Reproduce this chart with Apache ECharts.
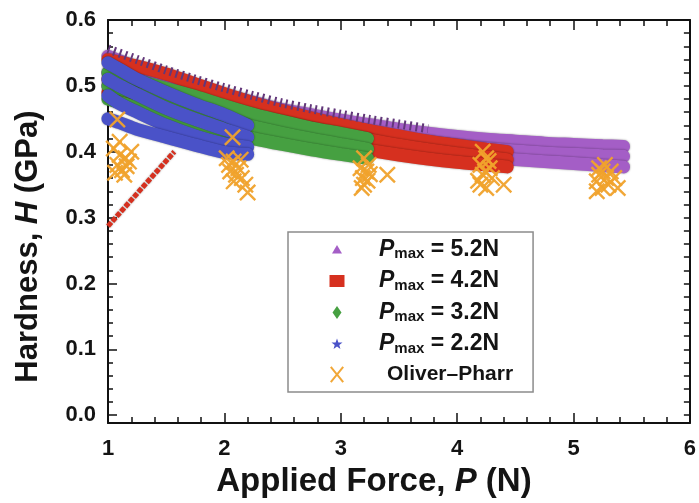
<!DOCTYPE html>
<html><head><meta charset="utf-8">
<script src="https://cdn.jsdelivr.net/npm/echarts@6/dist/echarts.min.js"></script>
<style>html,body{margin:0;padding:0;background:#fff}#c{width:699px;height:503px}</style>
</head><body><div id="c"></div>
<script>
// ---------------- DATA ----------------
const xTickLabels = [1, 2, 3, 4, 5, 6];
const yTickLabels = [0, 0.1, 0.2, 0.3, 0.4, 0.5, 0.6];
const yMinorTicks = [0,0.02,0.04,0.06,0.08,0.1,0.12,0.14,0.16,0.18,0.2,0.22,0.24,0.26,0.28,0.3,0.32,0.34,0.36,0.38,0.4,0.42,0.44,0.46,0.48,0.5,0.52,0.54,0.56,0.58,0.6];

const seriesNames = ['Pmax = 5.2N', 'Pmax = 4.2N', 'Pmax = 3.2N', 'Pmax = 2.2N', 'Oliver\u2013Pharr'];

// Pmax = 5.2 N (three test runs forming the purple band)
const p52X    = [1.0, 1.25, 1.5, 1.75, 2.0, 2.25, 2.5, 2.75, 3.0, 3.25, 3.5, 3.75, 4.0, 4.25, 4.5, 4.75, 5.0, 5.25, 5.43];
const p52RunA = [0.545, 0.528, 0.512, 0.498, 0.486, 0.475, 0.464, 0.456, 0.448, 0.441, 0.434, 0.428, 0.423, 0.419, 0.416, 0.413, 0.411, 0.409, 0.408];
const p52RunB = [0.520, 0.505, 0.490, 0.477, 0.466, 0.456, 0.447, 0.439, 0.432, 0.426, 0.420, 0.414, 0.409, 0.405, 0.401, 0.398, 0.396, 0.394, 0.393];
const p52RunC = [0.500, 0.485, 0.470, 0.458, 0.447, 0.437, 0.428, 0.421, 0.415, 0.409, 0.404, 0.399, 0.395, 0.391, 0.388, 0.385, 0.382, 0.379, 0.377];
// upper edge of the purple band (hatched marker outlines)
const p52EdgeX = [1.0, 1.25, 1.5, 1.75, 2.0, 2.25, 2.5, 2.75, 3.0, 3.25, 3.5, 3.75];
const p52EdgeY = [0.556, 0.540, 0.524, 0.510, 0.497, 0.485, 0.474, 0.465, 0.457, 0.449, 0.442, 0.435];

// Pmax = 4.2 N
const p42X    = [1.0, 1.25, 1.5, 1.75, 2.0, 2.25, 2.5, 2.75, 3.0, 3.25, 3.5, 3.75, 4.0, 4.25, 4.43];
const p42RunA = [0.540, 0.530, 0.518, 0.503, 0.488, 0.474, 0.462, 0.451, 0.441, 0.432, 0.424, 0.416, 0.410, 0.404, 0.400];
const p42RunB = [0.510, 0.500, 0.490, 0.478, 0.466, 0.455, 0.445, 0.435, 0.426, 0.418, 0.410, 0.403, 0.397, 0.392, 0.388];
const p42RunC = [0.490, 0.480, 0.470, 0.458, 0.447, 0.437, 0.427, 0.418, 0.410, 0.402, 0.395, 0.389, 0.384, 0.380, 0.377];
// initial loading ramp of the 4.2 N test
const p42RampX = [1.0, 1.57];
const p42RampY = [0.287, 0.400];

// Pmax = 3.2 N
const p32X    = [1.0, 1.25, 1.5, 1.75, 2.0, 2.25, 2.5, 2.75, 3.0, 3.23];
const p32RunA = [0.520, 0.508, 0.496, 0.484, 0.470, 0.457, 0.446, 0.436, 0.428, 0.420];
const p32RunB = [0.500, 0.488, 0.476, 0.463, 0.450, 0.438, 0.428, 0.419, 0.411, 0.404];
const p32RunC = [0.480, 0.467, 0.455, 0.443, 0.431, 0.420, 0.411, 0.403, 0.396, 0.390];

// Pmax = 2.2 N
const p22X    = [1.0, 1.1, 1.25, 1.5, 1.75, 2.0, 2.2];
const p22RunA = [0.535, 0.525, 0.510, 0.490, 0.472, 0.456, 0.440];
const p22RunB = [0.510, 0.500, 0.487, 0.466, 0.449, 0.434, 0.422];
const p22RunC = [0.485, 0.473, 0.460, 0.440, 0.424, 0.412, 0.407];
const p22RunD = [0.450, 0.444, 0.434, 0.422, 0.410, 0.399, 0.396];

// Oliver–Pharr estimates
const opX = [1.08, 1.05, 1.10, 1.15, 1.08, 1.12, 1.18, 1.06, 1.14, 1.20, 1.10, 1.16,
             2.07, 2.02, 2.08, 2.12, 2.05, 2.10, 2.15, 2.08, 2.18, 2.20, 2.04, 2.14,
             3.20, 3.17, 3.22, 3.19, 3.24, 3.20, 3.23, 3.40, 3.18, 3.25,
             4.22, 4.25, 4.20, 4.28, 4.22, 4.30, 4.20, 4.25, 4.40, 4.18, 4.27, 4.24,
             5.22, 5.25, 5.28, 5.20, 5.30, 5.25, 5.38, 5.22, 5.32, 5.27, 5.35, 5.20];
const opY = [0.449, 0.405, 0.395, 0.390, 0.380, 0.372, 0.385, 0.368, 0.365, 0.400, 0.415, 0.378,
             0.422, 0.390, 0.385, 0.375, 0.370, 0.365, 0.360, 0.355, 0.350, 0.338, 0.380, 0.388,
             0.390, 0.375, 0.370, 0.360, 0.380, 0.350, 0.356, 0.365, 0.345, 0.366,
             0.400, 0.390, 0.380, 0.375, 0.365, 0.360, 0.350, 0.345, 0.350, 0.356, 0.386, 0.370,
             0.375, 0.370, 0.360, 0.355, 0.350, 0.345, 0.345, 0.365, 0.370, 0.380, 0.360, 0.340];

// ---------------- CHART ----------------
const pairs = (xs, ys) => xs.map((x, i) => [x, ys[i]]);
const FONT = '"Liberation Sans", Arial, Helvetica, sans-serif';
const C = { p52: '#a45ec6', p42: '#d6301f', p32: '#46a041', p22: '#4a52c8', op: '#f0a22c' };

function band(name, color, xs, ys, width) {
  return {
    type: 'line', name, data: pairs(xs, ys), showSymbol: false, symbol: 'none',
    smooth: 0.3, color, itemStyle: { color },
    lineStyle: { color, width: width || 13, cap: 'round', shadowColor: 'rgba(0,0,0,0.45)', shadowBlur: 2 },
    emphasis: { disabled: true }, animation: false, z: 2
  };
}

const series = [
  band(seriesNames[0], C.p52, p52X, p52RunA),
  band(seriesNames[0], C.p52, p52X, p52RunB),
  band(seriesNames[0], C.p52, p52X, p52RunC),
  {
    type: 'line', name: seriesNames[0], data: pairs(p52EdgeX, p52EdgeY), showSymbol: false, symbol: 'none',
    smooth: 0.3, color: '#5a3270',
    lineStyle: { color: '#62377a', width: 9, type: [2, 4] }, emphasis: { disabled: true }, animation: false
  },
  band(seriesNames[1], C.p42, p42X, p42RunA),
  band(seriesNames[1], C.p42, p42X, p42RunB),
  band(seriesNames[1], C.p42, p42X, p42RunC),
  band(seriesNames[2], C.p32, p32X, p32RunA),
  band(seriesNames[2], C.p32, p32X, p32RunB),
  band(seriesNames[2], C.p32, p32X, p32RunC),
  band(seriesNames[3], C.p22, p22X, p22RunA),
  band(seriesNames[3], C.p22, p22X, p22RunB),
  band(seriesNames[3], C.p22, p22X, p22RunC),
  band(seriesNames[3], C.p22, p22X, p22RunD),
  {
    type: 'line', name: seriesNames[1], data: pairs(p42RampX, p42RampY), showSymbol: false, symbol: 'none',
    color: C.p42, lineStyle: { color: C.p42, width: 5, type: [5, 1.5], shadowColor: 'rgba(0,0,0,0.4)', shadowBlur: 2 },
    emphasis: { disabled: true }, animation: false
  },
  {
    type: 'scatter', name: seriesNames[4], data: pairs(opX, opY),
    symbol: 'path://M0,2L2,0L10,8L18,0L20,2L12,10L20,18L18,20L10,12L2,20L0,18L8,10Z',
    symbolSize: 17, itemStyle: { color: C.op, opacity: 0.95 }, color: C.op,
    emphasis: { disabled: true }, animation: false, z: 5
  }
];

const icons = [
  'path://M0,0M20,20M10,5.5L15,14L5,14Z',
  'path://M0,0M20,20M2.5,4L17.5,4L17.5,16L2.5,16Z',
  'path://M0,0M20,20M10,3.5L14.5,10L10,16.5L5.5,10Z',
  'path://M0,0M20,20M10,4.5L11.4,8.4L15.5,8.5L12.3,11L13.4,15L10,12.6L6.6,15L7.7,11L4.5,8.5L8.6,8.4Z',
  'path://M0,0M20,20M3,3L4.6,1.8L10,8.4L15.4,1.8L17,3L11.3,10L17,17L15.4,18.2L10,11.6L4.6,18.2L3,17L8.7,10Z'
];

const axisLineStyle = { color: '#111', width: 2 };

const option = {
  backgroundColor: '#fff',
  animation: false,
  textStyle: { fontFamily: FONT },
  grid: { left: 108, right: 6, top: 20, bottom: 71, containLabel: false },
  legend: {
    orient: 'vertical', left: 288, top: 232,
    padding: [6, 20, 7, 39], itemGap: 8, itemWidth: 20, itemHeight: 20,
    backgroundColor: '#fff', borderColor: '#8c8c8c', borderWidth: 1.5,
    selectedMode: false,
    data: seriesNames.map((n, i) => ({ name: n, icon: icons[i] })),
    formatter: function (name) {
      if (name.indexOf('Oliver') === 0) return '{o|' + name + '}';
      return '{p|P}{s|max}{t| = ' + name.split('= ')[1] + '}';
    },
    textStyle: {
      fontFamily: FONT, color: '#141414', fontWeight: 'bold',
      rich: {
        p: { fontFamily: FONT, fontSize: 23, fontStyle: 'italic', fontWeight: 'bold', lineHeight: 24, padding: [0, 0, 0, 27], color: '#141414' },
        s: { fontFamily: FONT, fontSize: 15, fontWeight: 'bold', lineHeight: 12, verticalAlign: 'bottom', color: '#141414' },
        t: { fontFamily: FONT, fontSize: 23, fontWeight: 'bold', lineHeight: 24, color: '#141414' },
        o: { fontFamily: FONT, fontSize: 21, fontWeight: 'bold', lineHeight: 24, padding: [0, 0, 0, 35], color: '#141414' }
      }
    }
  },
  xAxis: [
    {
      type: 'value', min: 1, max: 6, interval: 1, position: 'bottom',
      name: 'Applied Force, {i|P} (N)', nameLocation: 'middle', nameGap: 41,
      nameTextStyle: {
        fontFamily: FONT, fontSize: 33, fontWeight: 'bold', color: '#141414', padding: [0, 50, 0, 0],
        rich: { i: { fontFamily: FONT, fontSize: 33, fontWeight: 'bold', fontStyle: 'italic', color: '#141414' } }
      },
      axisLine: { show: true, onZero: false, lineStyle: axisLineStyle },
      axisTick: { show: true, inside: true, length: 10, lineStyle: { color: '#111', width: 1.5 } },
      minorTick: { show: true, splitNumber: 5, length: 6, lineStyle: { color: '#111', width: 1.5 } },
      axisLabel: { show: true, fontFamily: FONT, fontSize: 22, fontWeight: 'bold', color: '#141414', margin: 15,
                   formatter: v => (xTickLabels.indexOf(v) >= 0 ? String(v) : '') },
      splitLine: { show: false }, minorSplitLine: { show: false }
    },
    {
      type: 'value', min: 1, max: 6, interval: 1, position: 'top',
      axisLine: { show: true, onZero: false, lineStyle: axisLineStyle },
      axisTick: { show: true, inside: true, length: 10, lineStyle: { color: '#111', width: 1.5 } },
      minorTick: { show: true, splitNumber: 5, length: 6, lineStyle: { color: '#111', width: 1.5 } },
      axisLabel: { show: false }, splitLine: { show: false }
    }
  ],
  yAxis: [
    {
      type: 'value', min: -0.012, max: 0.6, position: 'left',
      name: 'Hardness, {i|H} (GPa)', nameLocation: 'middle', nameGap: 64, nameRotate: 90,
      nameTextStyle: {
        fontFamily: FONT, fontSize: 31, fontWeight: 'bold', color: '#141414', padding: [0, 50, 0, 0],
        rich: { i: { fontFamily: FONT, fontSize: 31, fontWeight: 'bold', fontStyle: 'italic', color: '#141414' } }
      },
      axisLine: { show: true, onZero: false, lineStyle: axisLineStyle },
      axisTick: { show: true, inside: true, length: 9, customValues: yTickLabels, lineStyle: { color: '#111', width: 1.5 } },
      axisLabel: { show: true, customValues: yTickLabels, fontFamily: FONT, fontSize: 22, fontWeight: 'bold', color: '#141414', margin: 12,
                   formatter: v => Number(v).toFixed(1) },
      splitLine: { show: false }
    },
    {
      type: 'value', min: -0.012, max: 0.6, position: 'right',
      axisLine: { show: true, onZero: false, lineStyle: axisLineStyle },
      axisTick: { show: true, inside: true, length: 6, customValues: yMinorTicks, lineStyle: { color: '#111', width: 1.5 } },
      axisLabel: { show: false }, splitLine: { show: false }
    },
    {
      type: 'value', min: -0.012, max: 0.6, position: 'left', offset: 0,
      axisLine: { show: false, onZero: false },
      axisTick: { show: true, inside: true, length: 5, customValues: yMinorTicks, lineStyle: { color: '#111', width: 1.5 } },
      axisLabel: { show: false }, splitLine: { show: false }
    }
  ],
  series: series
};

const chart = echarts.init(document.getElementById('c'), null, { renderer: 'canvas' });
chart.setOption(option);
</script></body></html>
